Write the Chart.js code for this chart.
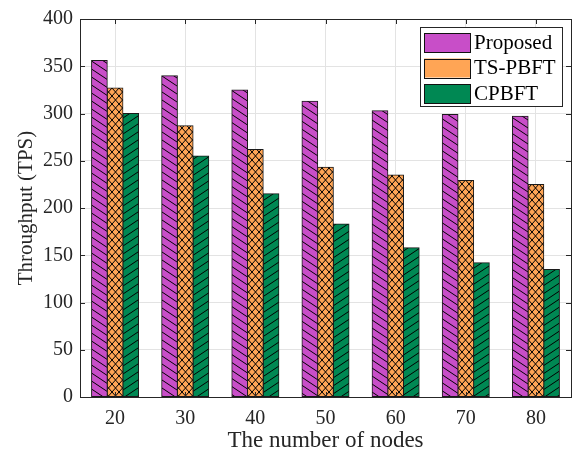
<!DOCTYPE html>
<html>
<head>
<meta charset="utf-8">
<script src="https://cdn.jsdelivr.net/npm/chart.js@4.4.1/dist/chart.umd.min.js"></script>
<style>
  html, body { margin: 0; padding: 0; background: #fff; }
  #wrap { width: 574px; height: 453px; }
</style>
</head>
<body>
<div id="wrap"><canvas id="myChart" width="574" height="453"></canvas></div>
<script>
// data
const nodes = ['20', '30', '40', '50', '60', '70', '80'];
const proposed = [356, 340, 325, 313, 303, 299, 297];
const tsPbft = [327, 287, 262, 243, 235, 229, 225];
const cpbft = [300, 255, 215, 183, 158, 142, 135];
const seriesNames = ['Proposed', 'TS-PBFT', 'CPBFT'];
const yTicks = [0, 50, 100, 150, 200, 250, 300, 350, 400];

const colMagenta = '#C84EC8';
const colOrange = '#FFA555';
const colGreen = '#008853';
const axisCol = '#262626';

// hatch patterns, type: 'back' = \ , 'fwd' = / , 'cross' = x
function makeHatch(bg, type, w, h) {
    const c = document.createElement('canvas');
    c.width = w; c.height = h;
    const g = c.getContext('2d');
    g.fillStyle = bg;
    g.fillRect(0, 0, w, h);
    g.strokeStyle = '#000';
    g.lineWidth = 1;
    g.beginPath();
    for (let k = -1; k <= 1; k++) {
        if (type === 'back' || type === 'cross') {
            g.moveTo(0, k * h);
            g.lineTo(w, k * h + h);
        }
        if (type === 'fwd' || type === 'cross') {
            g.moveTo(0, k * h + h);
            g.lineTo(w, k * h);
        }
    }
    g.stroke();
    return g.createPattern(c, 'repeat');
}

const ctx = document.getElementById('myChart').getContext('2d');
const fills = [
    makeHatch(colMagenta, 'back', 12, 8),
    makeHatch(colOrange, 'cross', 7, 8),
    makeHatch(colGreen, 'fwd', 12, 8)
];
const swatchCols = [colMagenta, colOrange, colGreen];

// box, inward ticks and legend (MATLAB style)
const framePlugin = {
    id: 'frame',
    afterDraw(chart) {
        const c = chart.ctx;
        const a = chart.chartArea;
        const xs = chart.scales.x, ys = chart.scales.y;
        c.save();
        c.strokeStyle = axisCol;
        c.lineWidth = 1;
        c.strokeRect(Math.round(a.left) + 0.5, Math.round(a.top) + 0.5,
            Math.round(a.right - a.left), Math.round(a.bottom - a.top));
        c.beginPath();
        const tl = 5;
        yTicks.forEach(v => {
            const y = Math.round(ys.getPixelForValue(v)) + 0.5;
            c.moveTo(a.left, y); c.lineTo(a.left + tl, y);
            c.moveTo(a.right, y); c.lineTo(a.right - tl, y);
        });
        nodes.forEach((n, i) => {
            const x = Math.round(xs.getPixelForValue(i)) + 0.5;
            c.moveTo(x, a.bottom); c.lineTo(x, a.bottom - tl);
            c.moveTo(x, a.top); c.lineTo(x, a.top + tl);
        });
        c.stroke();

        // legend
        const lx = 420, ly = 27, lw = 142, lh = 79;
        c.fillStyle = '#fff';
        c.fillRect(lx, ly, lw, lh);
        c.strokeStyle = axisCol;
        c.strokeRect(lx + 0.5, ly + 0.5, lw, lh);
        c.font = '21px "Liberation Serif", serif';
        c.textBaseline = 'middle';
        c.textAlign = 'left';
        seriesNames.forEach((name, i) => {
            const sy = 33 + i * 25.5;
            c.fillStyle = swatchCols[i];
            c.fillRect(424, sy, 46, 19);
            c.strokeStyle = '#111';
            c.strokeRect(424.5, Math.round(sy) + 0.5, 46, 19);
            c.fillStyle = '#000';
            c.fillText(name, 474, sy + 10);
        });
        c.restore();
    }
};

Chart.defaults.font.family = '"Liberation Serif", "Times New Roman", serif';
Chart.defaults.color = axisCol;
Chart.defaults.animation = false;

new Chart(ctx, {
    type: 'bar',
    data: {
        labels: nodes,
        datasets: [proposed, tsPbft, cpbft].map((d, i) => ({
            label: seriesNames[i],
            data: d,
            backgroundColor: fills[i],
            borderColor: '#1a1a1a',
            borderWidth: 1,
            borderSkipped: false,
            inflateAmount: 0.5,
            categoryPercentage: 0.67,
            barPercentage: 1.0
        }))
    },
    options: {
        responsive: false,
        animation: false,
        layout: { padding: { top: 16, right: 3, left: 0, bottom: 0 } },
        plugins: { legend: { display: false }, tooltip: { enabled: false } },
        scales: {
            x: {
                grid: { color: '#e3e3e3', offset: false, drawTicks: false },
                border: { display: false },
                ticks: { font: { size: 20 }, padding: 10, color: axisCol },
                title: { display: true, text: 'The number of nodes', font: { size: 23 }, padding: { top: 0, bottom: -2 }, color: axisCol },
                afterFit: s => { s.height = 56; }
            },
            y: {
                min: 0, max: 400,
                grid: { color: '#e3e3e3', drawTicks: false },
                border: { display: false },
                ticks: { stepSize: 50, font: { size: 20 }, padding: 7, color: axisCol },
                title: { display: true, text: 'Throughput (TPS)', font: { size: 21 }, padding: { top: 14, bottom: 0 }, color: axisCol },
                afterFit: s => { s.width = 80; }
            }
        }
    },
    plugins: [framePlugin]
});
</script>
</body>
</html>
